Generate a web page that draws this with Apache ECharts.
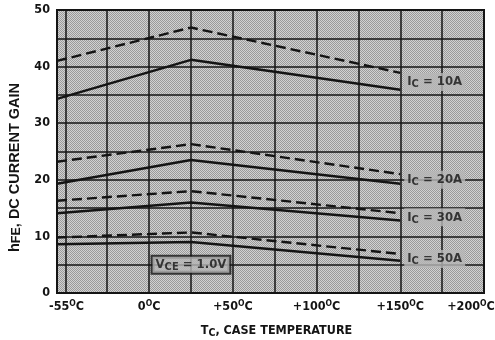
<!DOCTYPE html>
<html>
<head>
<meta charset="utf-8">
<script src="https://cdn.jsdelivr.net/npm/echarts@6/dist/echarts.min.js"></script>
<style>
  html, body { margin: 0; padding: 0; background: #ffffff; }
  #chart { width: 495px; height: 340px; }
</style>
</head>
<body>
<div id="chart"></div>
<script>
// Case temperature points (°C) where each curve is sampled
const temps = [-55, 25, 150];

// DC current gain hFE, dashed curves
const gainDashed10A = [41.0, 46.9, 38.9];
const gainDashed20A = [23.2, 26.3, 21.0];
const gainDashed30A = [16.3, 18.0, 14.1];
const gainDashed50A = [9.8, 10.7, 6.9];

// DC current gain hFE, solid curves
const gainSolid10A = [34.3, 41.2, 35.9];
const gainSolid20A = [19.3, 23.5, 19.3];
const gainSolid30A = [14.1, 16.0, 12.8];
const gainSolid50A = [8.6, 9.0, 5.7];

// Collector current names for the curve pairs
const currents = ['10A', '20A', '30A', '50A'];

// Axis tick labels and grid positions
const tempTickLabels = [-55, 0, 50, 100, 150, 200];
const tempGridLines = [-50, -25, 0, 25, 50, 75, 100, 125, 150, 175];
const gainTickLabels = [0, 10, 20, 30, 40, 50];

const NARROW = '"Liberation Sans Narrow", "DejaVu Sans Condensed", Arial, sans-serif';
const WIDE = '"Liberation Sans", Arial, sans-serif';
const INK = '#141414';
const PAPER = '#b6b6b6';

// Fine halftone texture for the plotting field
function halftone() {
  const c = document.createElement('canvas');
  c.width = 2; c.height = 2;
  const g = c.getContext('2d');
  g.fillStyle = '#d2d2d2'; g.fillRect(0, 0, 2, 2);
  g.fillStyle = '#9a9a9a'; g.fillRect(0, 0, 1, 1); g.fillRect(1, 1, 1, 1);
  return { image: c, repeat: 'repeat' };
}

const pairs = vals => temps.map((t, i) => [t, vals[i]]);

const dashedSets = [gainDashed10A, gainDashed20A, gainDashed30A, gainDashed50A];
const solidSets = [gainSolid10A, gainSolid20A, gainSolid30A, gainSolid50A];

function makeRich(family, size, weight) {
  const base = { fontFamily: family, fontWeight: weight, color: INK };
  return {
    n: Object.assign({ fontSize: size, lineHeight: 16 }, base),
    o: Object.assign({ fontSize: size - 4, lineHeight: 9, verticalAlign: 'top' }, base),
    s: Object.assign({ fontSize: size - 2, lineHeight: 10, verticalAlign: 'bottom' }, base),
    first: Object.assign({ fontSize: size, lineHeight: 16, padding: [0, 0, 0, 19] }, base),
    last: Object.assign({ fontSize: size, lineHeight: 16, padding: [0, 26, 0, 0] }, base)
  };
}
const axisRich = makeRich(NARROW, 12.5, 'bold');
const plotRich = makeRich(NARROW, 13, 'bold');
const yNameRich = makeRich(WIDE, 14.5, 'bold');
const xNameRich = makeRich(NARROW, 12.5, 'bold');

const series = [];
dashedSets.forEach((vals, k) => {
  series.push({
    name: 'IC = ' + currents[k] + ' (dashed)',
    type: 'line',
    data: pairs(vals),
    symbol: 'none',
    lineStyle: { color: INK, width: 2.4, type: [10, 5] },
    z: 4
  });
});
solidSets.forEach((vals, k) => {
  series.push({
    name: 'IC = ' + currents[k],
    type: 'line',
    data: pairs(vals),
    symbol: 'none',
    lineStyle: { color: INK, width: 2.4 },
    z: 4
  });
});

// Vertical temperature grid lines
series.push({
  type: 'line',
  data: [],
  silent: true,
  z: 2,
  markLine: {
    silent: true,
    symbol: 'none',
    animation: false,
    label: { show: false },
    lineStyle: { color: INK, width: 1.5, type: 'solid' },
    data: tempGridLines.map(t => ({ xAxis: t }))
  }
});

// Curve names placed at the right end of each pair
const curveLabelAnchors = [[150, 37.3], [150, 20.0], [150, 13.4], [150, 6.0]];
series.push({
  type: 'scatter',
  silent: true,
  symbolSize: 0,
  z: 6,
  data: curveLabelAnchors.map((p, k) => ({ value: p, name: currents[k] })),
  label: {
    show: true,
    position: 'right',
    distance: 4,
    backgroundColor: PAPER,
    padding: [1, 3, 1, 3],
    formatter: p => '{n|I}{s|C}{n| = ' + p.name + '}',
    rich: plotRich
  }
});

// Test condition box
series.push({
  type: 'scatter',
  silent: true,
  symbolSize: 0,
  z: 6,
  data: [[25, 5]],
  label: {
    show: true,
    position: 'inside',
    backgroundColor: PAPER,
    borderColor: INK,
    borderWidth: 2,
    padding: [0, 3, 0, 3],
    formatter: () => '{n|V}{s|CE}{n| = 1.0V}',
    rich: plotRich
  }
});

const fmtTemp = v => {
  const s = (v > 0 ? '+' : '') + v;
  if (v === tempTickLabels[0]) return '{first|' + s + '}{o|O}{n|C}';
  if (v === tempTickLabels[tempTickLabels.length - 1]) return '{n|' + s + '}{o|O}{last|C}';
  return '{n|' + s + '}{o|O}{n|C}';
};

const chart = echarts.init(document.getElementById('chart'), null, { renderer: 'canvas' });
chart.setOption({
  animation: false,
  backgroundColor: '#ffffff',
  grid: {
    left: 57, top: 10, right: 11, bottom: 47,
    outerBoundsMode: 'none',
    containLabel: false,
    show: true,
    backgroundColor: halftone(),
    borderColor: INK,
    borderWidth: 2
  },
  xAxis: {
    type: 'value',
    min: -55,
    max: 200,
    axisLine: { show: false },
    axisTick: { show: false },
    splitLine: { show: false },
    axisLabel: {
      customValues: tempTickLabels,
      margin: 6,
      formatter: fmtTemp,
      rich: axisRich
    },
    name: '{n|T}{s|C}{n|, CASE TEMPERATURE}',
    nameLocation: 'middle',
    nameGap: 30,
    nameTextStyle: { rich: xNameRich, padding: [0, 0, 0, 12] }
  },
  yAxis: {
    type: 'value',
    min: 0,
    max: 50,
    interval: 5,
    axisLine: { show: false },
    axisTick: { show: false },
    splitLine: { show: true, lineStyle: { color: INK, width: 1.5 } },
    axisLabel: {
      margin: 7,
      formatter: v => (gainTickLabels.indexOf(v) >= 0 ? '{n|' + v + '}' : ''),
      rich: axisRich
    },
    name: '{n|h}{s|FE}{n|, DC CURRENT GAIN}',
    nameLocation: 'middle',
    nameGap: 31,
    nameTextStyle: { rich: yNameRich, padding: [0, 32, 0, 0] }
  },
  series: series
});
</script>
</body>
</html>
